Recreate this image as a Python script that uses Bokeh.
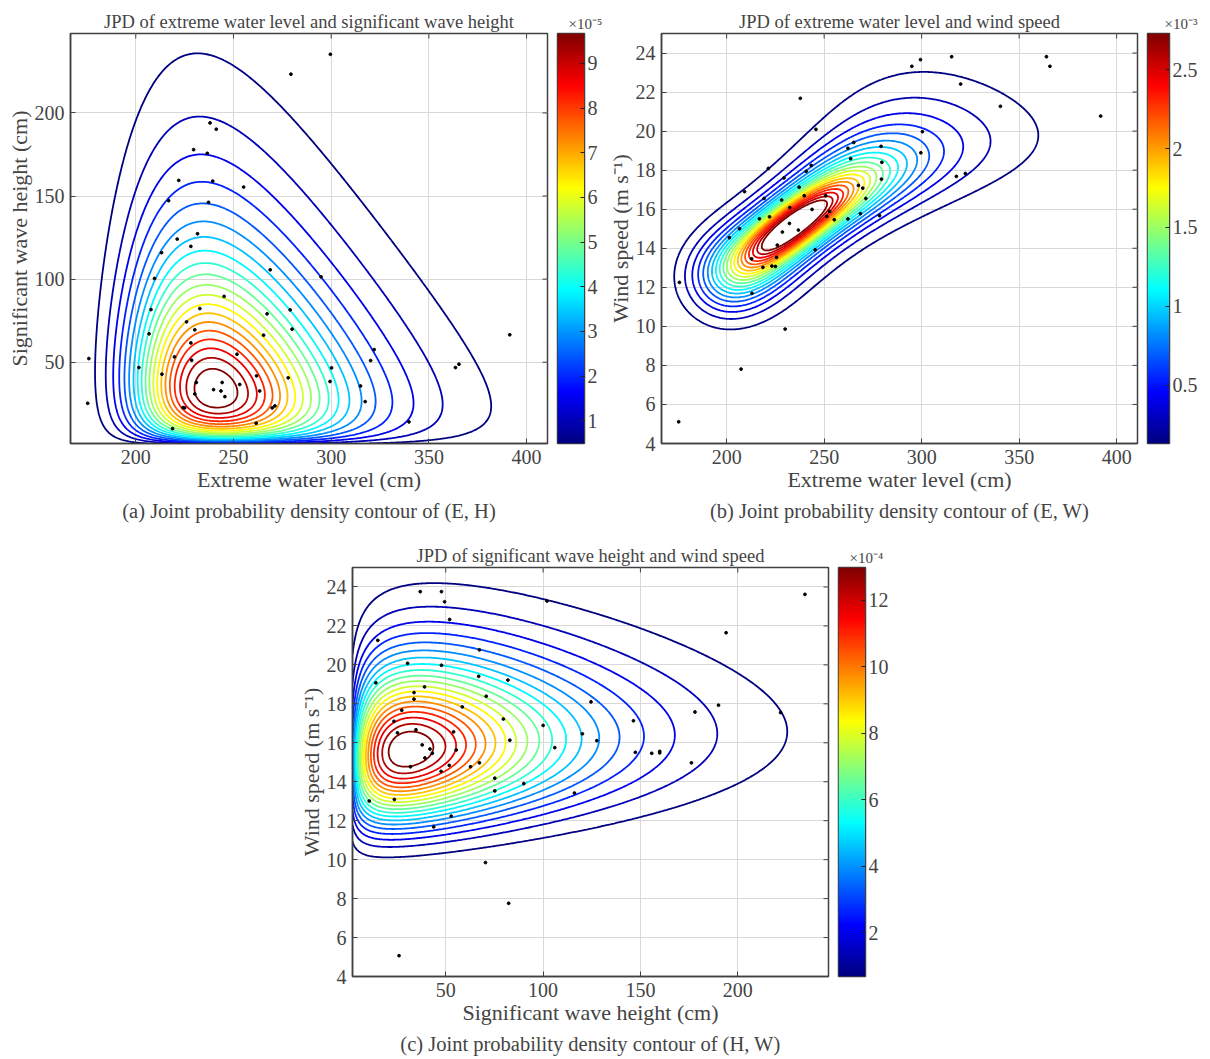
import math
import numpy as np
from bokeh.plotting import figure
from bokeh.layouts import row, column, Spacer
from bokeh.models import Title, LinearColorMapper, FixedTicker, Range1d
from bokeh.embed import file_html
from bokeh.resources import INLINE

FONT = "Liberation Serif"

E_a = [299.6, 279.4, 238.0, 241.2, 229.6, 236.6, 222.0, 239.4, 255.2, 216.8, 237.2, 231.6, 221.2, 228.2, 213.2,
       268.8, 294.8, 209.6, 245.2, 207.8, 232.8, 279.0, 267.2, 226.0, 230.2, 280.0, 206.8, 265.4, 391.4, 228.2,
       322.0, 251.8, 176.0, 219.8, 228.6, 320.2, 365.4, 363.6, 201.6, 300.2, 213.4, 261.8, 278.0, 231.0, 244.2,
       299.4, 253.2, 315.0, 239.8, 243.6, 263.4, 230.2, 245.6, 317.4, 175.4, 271.2, 269.8, 224.2, 225.0, 261.6,
       339.8, 218.8]
H_a = [235.3, 223.3, 194.0, 190.2, 177.9, 175.7, 159.4, 159.0, 155.4, 147.2, 146.2, 127.3, 124.1, 119.7, 115.9,
       105.6, 101.4, 100.4, 89.6, 81.7, 82.3, 81.5, 79.1, 74.3, 69.5, 69.9, 67.1, 66.3, 66.5, 61.6,
       57.6, 54.8, 52.2, 53.2, 51.2, 51.0, 48.8, 46.8, 46.8, 46.6, 42.8, 41.8, 40.6, 37.8, 37.8,
       38.4, 36.6, 35.7, 33.5, 32.7, 32.7, 30.9, 29.3, 26.3, 25.3, 23.7, 22.5, 22.7, 22.5, 13.3,
       14.1, 10.0]

E_b = [299.4, 315.4, 364.0, 365.8, 295.0, 320.0, 237.8, 340.4, 391.8, 245.8, 300.4, 265.2, 262.2, 279.2, 299.6,
       263.6, 279.6, 243.4, 221.4, 240.8, 322.4, 317.8, 229.4, 279.4, 237.2, 267.6, 269.8, 209.2, 239.8, 250.8,
       219.2, 228.2, 271.4, 232.4, 243.8, 216.8, 222.0, 252.8, 251.4, 255.2, 262.2, 268.6, 278.4, 232.2, 206.6,
       228.6, 236.8, 201.4, 226.0, 245.4, 212.8, 225.6, 218.6, 223.2, 225.0, 175.8, 213.0, 230.0, 207.4, 175.4]
W_b = [23.66, 23.81, 23.81, 23.32, 23.32, 22.41, 21.68, 21.27, 20.77, 20.09, 19.97, 19.42, 19.12, 19.22, 18.89,
       18.59, 18.40, 18.24, 18.09, 17.94, 17.83, 17.68, 17.60, 17.54, 17.13, 17.22, 17.08, 16.90, 16.69, 16.69,
       16.55, 16.47, 16.55, 16.08, 15.99, 15.51, 15.61, 15.89, 15.63, 15.46, 15.50, 15.77, 15.67, 15.27, 15.00,
       14.83, 14.93, 14.54, 14.16, 13.92, 13.46, 13.53, 13.02, 13.09, 13.07, 12.25, 11.69, 9.86, 7.81, 5.11]

H_c = [36.9, 47.8, 49.4, 102.0, 234.5, 52.0, 194.0, 15.1, 67.3, 30.4, 47.8, 14.1, 66.9, 81.9, 39.1,
       33.7, 70.8, 33.7, 124.6, 190.1, 58.5, 27.4, 178.0, 222.0, 79.6, 146.4, 100.0, 23.4, 34.7, 25.2,
       54.0, 120.2, 82.9, 127.6, 37.9, 41.9, 106.0, 55.4, 43.1, 147.4, 155.8, 159.9, 159.9, 39.3, 51.8,
       62.7, 67.3, 31.9, 47.6, 176.2, 75.2, 90.1, 75.2, 116.1, 10.7, 23.6, 52.8, 43.8, 70.4, 82.3, 26.0]
W_c = [23.76, 23.76, 23.24, 23.28, 23.62, 22.33, 21.65, 21.26, 20.77, 20.08, 19.98, 19.08, 19.41, 19.22, 18.87,
       18.58, 18.39, 18.24, 18.10, 17.93, 17.84, 17.67, 17.58, 17.55, 17.22, 17.13, 16.89, 17.10, 16.67, 16.51,
       16.56, 16.46, 16.13, 16.11, 15.89, 15.68, 15.75, 15.63, 15.46, 15.51, 15.46, 15.56, 15.48, 15.22, 14.84,
       14.77, 14.97, 14.77, 14.53, 14.97, 14.18, 13.90, 13.53, 13.42, 13.01, 13.09, 12.23, 11.68, 9.85, 7.76, 5.07]

# ---------------- fitted marginal / copula parameters ----------------
E_LOC, E_SCALE = 238.0, 34.2          # Gumbel (extreme water level)
H_P, H_K, H_LAM = 0.85, 0.9, 33.6     # generalized gamma (wave height)
W_MODE, W_SIG = 15.9, 0.178           # lognormal (wind speed)
RHO_EH, RHO_HW = -0.10, 0.12          # Gaussian copulas for (E,H), (H,W)
THETA_EW = 8.0                        # Frank copula for (E,W)
E_LOC_B, W_MODE_B = 234.0, 15.55      # location of the (E,W) fit

# colour-bar ranges (= lowest / highest contour level), scaled units
LEV_A = (0.49, 9.67)    # x1e-5
LEV_B = (0.13, 2.73)    # x1e-3
LEV_C = (0.69, 12.98)   # x1e-4
N_LEV = 20

TICKS_A_CB = [1, 2, 3, 4, 5, 6, 7, 8, 9]
TICKS_B_CB = [0.5, 1, 1.5, 2, 2.5]
TICKS_C_CB = [2, 4, 6, 8, 10, 12]

X_E = (166.6, 410.7)
Y_H = (1.1, 247.8)
Y_W = (4.0, 25.0)
X_H = (2.1, 246.6)

E_TICKS = [200, 250, 300, 350, 400]
H_TICKS = [50, 100, 150, 200]
W_TICKS = [4, 6, 8, 10, 12, 14, 16, 18, 20, 22, 24]


# ---------------- helpers ----------------
def jet_hex(v):
    r = min(max(1.5 - abs(4 * v - 3), 0), 1)
    g = min(max(1.5 - abs(4 * v - 2), 0), 1)
    b = min(max(1.5 - abs(4 * v - 1), 0), 1)
    return "#%02x%02x%02x" % (int(round(r * 255)), int(round(g * 255)), int(round(b * 255)))


JET = [jet_hex(i / 255) for i in range(256)]
LEVEL_COLORS = [jet_hex(i / (N_LEV - 1)) for i in range(N_LEV)]

_erf = np.vectorize(math.erf)
_xt = np.linspace(-6.0, 6.0, 24001)
_pt = 0.5 * (1 + _erf(_xt / math.sqrt(2)))


def ndtri(p):
    return np.interp(np.clip(p, _pt[0], _pt[-1]), _pt, _xt)


def ncdf(x):
    return np.interp(x, _xt, _pt)


def f_E(e, loc=E_LOC):
    z = (e - loc) / E_SCALE
    return np.exp(-(z + np.exp(-z))) / E_SCALE


def F_E(e, loc=E_LOC):
    z = (e - loc) / E_SCALE
    return np.exp(-np.exp(-z))


H_A = H_P + 1
H_NORM = H_K / (H_LAM ** H_A * math.gamma(H_A / H_K))


def f_H(h):
    return H_NORM * h ** H_P * np.exp(-(h / H_LAM) ** H_K)


_hh = np.linspace(0, 3000, 300001)
_fh = f_H(_hh)
_ch = np.concatenate([[0.0], np.cumsum(0.5 * (_fh[1:] + _fh[:-1]) * np.diff(_hh))])
_ch /= _ch[-1]


def F_H(h):
    return np.interp(h, _hh, _ch)


def f_W(w, mode=W_MODE):
    mu = math.log(mode) + W_SIG ** 2
    return np.exp(-(np.log(w) - mu) ** 2 / (2 * W_SIG ** 2)) / (w * W_SIG * math.sqrt(2 * math.pi))


def s_W(w, mode=W_MODE):
    mu = math.log(mode) + W_SIG ** 2
    return (np.log(w) - mu) / W_SIG


def gcop(x, y, r):
    return np.exp(-(r * r * (x * x + y * y) - 2 * r * x * y) / (2 * (1 - r * r))) / math.sqrt(1 - r * r)


def frank(u, v, t):
    a = 1 - math.exp(-t)
    return t * a * np.exp(-t * (u + v)) / (a - (1 - np.exp(-t * u)) * (1 - np.exp(-t * v))) ** 2


# ---------------- density grids ----------------
ga_x, ga_y = np.meshgrid(np.linspace(*X_E, 400), np.linspace(*Y_H, 400))
Z_A = f_E(ga_x) * f_H(ga_y) * gcop(ndtri(F_E(ga_x)), ndtri(F_H(ga_y)), RHO_EH) * 1e5

gb_x, gb_y = np.meshgrid(np.linspace(*X_E, 400), np.linspace(*Y_W, 400))
Z_B = (f_E(gb_x, E_LOC_B) * f_W(gb_y, W_MODE_B)
       * frank(F_E(gb_x, E_LOC_B), ncdf(s_W(gb_y, W_MODE_B)), THETA_EW) * 1e3)

gc_x, gc_y = np.meshgrid(np.linspace(*X_H, 400), np.linspace(*Y_W, 400))
Z_C = f_H(gc_x) * f_W(gc_y) * gcop(ndtri(F_H(gc_x)), s_W(gc_y), RHO_HW) * 1e4


# ---------------- figure builders ----------------
def style_axis(ax):
    ax.major_label_text_font = FONT
    ax.major_label_text_font_size = "20px"
    ax.axis_label_text_font = FONT
    ax.axis_label_text_font_size = "22px"
    ax.axis_label_text_font_style = "normal"
    ax.major_tick_in = 5
    ax.major_tick_out = 0
    ax.minor_tick_line_color = None
    ax.axis_line_color = "#404040"
    ax.axis_line_width = 1.5
    ax.major_tick_line_color = "#404040"
    ax.major_label_standoff = 6
    ax.axis_label_standoff = 0


def main_fig(width, height, xr, yr, xticks, yticks, xlabel, ylabel, title, caption,
             mbl, mbt, mbb, mbr=4):
    p = figure(width=width, height=height, x_range=Range1d(*xr), y_range=Range1d(*yr),
               toolbar_location=None, output_backend="svg",
               min_border_left=mbl, min_border_right=mbr, min_border_top=mbt, min_border_bottom=mbb)
    p.title.text = title
    p.title.text_font = FONT
    p.title.text_font_size = "18.5px"
    p.title.text_font_style = "normal"
    p.title.align = "center"
    p.title.standoff = 4
    p.xaxis.ticker = FixedTicker(ticks=xticks)
    p.yaxis.ticker = FixedTicker(ticks=yticks)
    p.xaxis.axis_label = xlabel
    p.yaxis.axis_label = ylabel
    style_axis(p.xaxis[0])
    style_axis(p.yaxis[0])
    p.grid.grid_line_color = "#d8d8d8"
    p.grid.grid_line_width = 1
    p.outline_line_color = "#404040"
    p.outline_line_width = 1.5
    p.outline_line_alpha = 1
    cap = Title(text=caption, align="center", text_font=FONT, text_font_size="20.5px",
                text_font_style="normal", standoff=6)
    p.add_layout(cap, "below")
    return p


def mirror_ticks(p, xr, yr, xticks, yticks):
    # tick marks on the top and right edges of the box (half of each dash is clipped)
    p.scatter(x=xticks, y=[yr[1]] * len(xticks), marker="dash", angle=math.pi / 2, size=10,
              line_color="#404040", line_width=1)
    p.scatter(x=[xr[1]] * len(yticks), y=yticks, marker="dash", size=10,
              line_color="#404040", line_width=1)


def cbar_fig(width, height, lo, hi, ticks, label, offset, mbt, mbb, mbr):
    c = figure(width=width, height=height, x_range=Range1d(0, 1), y_range=Range1d(lo, hi),
               toolbar_location=None, output_backend="svg", y_axis_location="right",
               min_border_left=6, min_border_right=mbr, min_border_top=mbt, min_border_bottom=mbb)
    mapper = LinearColorMapper(palette=JET, low=lo, high=hi)
    c.image(image=[np.linspace(lo, hi, 256).reshape(-1, 1)], x=0, y=lo, dw=1, dh=hi - lo,
            color_mapper=mapper)
    c.xaxis.visible = False
    c.grid.visible = False
    c.yaxis.ticker = FixedTicker(ticks=ticks)
    c.yaxis.major_label_overrides = {t: ("%g" % t) for t in ticks}
    ax = c.yaxis[0]
    ax.major_label_text_font = FONT
    ax.major_label_text_font_size = "20px"
    ax.major_tick_in = 4
    ax.major_tick_out = 0
    ax.minor_tick_line_color = None
    ax.axis_line_color = "#404040"
    ax.major_tick_line_color = "#202020"
    ax.major_label_standoff = 3
    c.outline_line_color = "#404040"
    c.outline_line_width = 1.5
    c.title.text = label
    c.title.text_font = FONT
    c.title.text_font_size = "15px"
    c.title.text_font_style = "normal"
    c.title.align = "left"
    c.title.offset = offset
    c.title.standoff = 4
    return c


# ---------------- panel (a) ----------------
pa = main_fig(551, 535, X_E, Y_H, E_TICKS, H_TICKS,
              "Extreme water level (cm)", "Significant wave height (cm)",
              "JPD of extreme water level and significant wave height",
              "(a) Joint probability density contour of (E, H)", 70, 33, 92)
pa.contour(ga_x, ga_y, Z_A, list(np.linspace(*LEV_A, N_LEV)), line_color=LEVEL_COLORS, line_width=1.8)
pa.scatter(E_a, H_a, size=2.8, color="black")
mirror_ticks(pa, X_E, Y_H, E_TICKS, H_TICKS)
ca = cbar_fig(53, 535, LEV_A[0], LEV_A[1], TICKS_A_CB, "×10⁻⁵", 11, 33, 92, 20)

# ---------------- panel (b) ----------------
pb = main_fig(537, 535, X_E, Y_W, E_TICKS, W_TICKS,
              "Extreme water level (cm)", "Wind speed (m s⁻¹)",
              "JPD of extreme water level and wind speed",
              "(b) Joint probability density contour of (E, W)", 53, 33, 92)
pb.contour(gb_x, gb_y, Z_B, list(np.linspace(*LEV_B, N_LEV)), line_color=LEVEL_COLORS, line_width=1.8)
pb.scatter(E_b, W_b, size=2.8, color="black")
mirror_ticks(pb, X_E, Y_W, E_TICKS, W_TICKS)
cb = cbar_fig(59, 535, LEV_B[0], LEV_B[1], TICKS_B_CB, "×10⁻³", 17, 33, 92, 25)

# ---------------- panel (c) ----------------
pc = main_fig(537, 523, X_H, Y_W, H_TICKS, W_TICKS,
              "Significant wave height (cm)", "Wind speed (m s⁻¹)",
              "JPD of significant wave height and wind speed",
              "(c) Joint probability density contour of (H, W)", 53, 32, 82)
pc.contour(gc_x, gc_y, Z_C, list(np.linspace(*LEV_C, N_LEV)), line_color=LEVEL_COLORS, line_width=1.8)
pc.scatter(H_c, W_c, size=2.8, color="black")
mirror_ticks(pc, X_H, Y_W, H_TICKS, W_TICKS)
cc = cbar_fig(63, 523, LEV_C[0], LEV_C[1], TICKS_C_CB, "×10⁻⁴", 11, 32, 82, 30)

layout = column(row(pa, ca, pb, cb), row(Spacer(width=295, height=523), pc, cc))

open("out.html", "w").write(file_html(layout, INLINE))
